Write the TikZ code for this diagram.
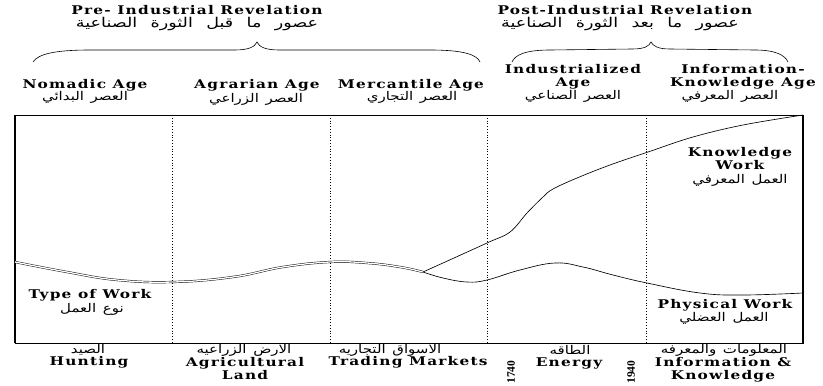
\documentclass[tikz,border=0pt]{standalone}
\usepackage{fontspec}
\setmainfont{DejaVu Serif}
\newfontfamily\enfont[FakeStretch=1.28,LetterSpace=10]{DejaVu Serif}
\newfontfamily\yrfont{Liberation Serif}
\newfontfamily\arfont[Script=Arabic,FakeStretch=1.25,WordSpace=1.4]{DejaVu Sans}
\newfontfamily\artitlefont[Script=Arabic,FakeStretch=1.3,WordSpace=2.4]{DejaVu Sans}
\TeXXeTstate=1
\tikzset{
  en/.style={font=\enfont\bfseries\fontsize{12}{13}\selectfont, align=center, inner sep=0pt},
  arb/.style={font=\arfont\fontsize{12}{13}\selectfont, inner sep=0pt},
  artitle/.style={font=\artitlefont\fontsize{13.5}{14}\selectfont, inner sep=0pt},
  yr/.style={font=\yrfont\bfseries\fontsize{11.5}{12}\selectfont, inner sep=0pt, rotate=90},
  frame/.style={line width=0.7pt},
  sideline/.style={line width=1.3pt},
  sep/.style={dotted, line width=0.8pt},
  curve/.style={line width=0.65pt},
  dbl/.style={double, double distance=1.3pt, line width=0.45pt},
  brace/.style={line width=0.6pt}
}
\begin{document}
\begin{tikzpicture}[x=1pt,y=-1pt]
\useasboundingbox (0,0) rectangle (823,386);
% titles
\node[en] (pre) at (197,10) {Pre- Industrial Revelation};
\node[artitle] (prear) at (197,24) {\beginR عصور ما قبل الثورة الصناعية\endR};
\node[en] (post) at (625,10) {Post-Industrial Revelation};
\node[artitle] (postar) at (620,24) {\beginR عصور ما بعد الثورة الصناعية\endR};
% braces
\draw[brace] (33,62) .. controls (38,54) and (55,50) .. (90,50) -- (235,50)
  .. controls (248,50) and (255,47) .. (257,42)
  .. controls (259,47) and (266,50) .. (279,50) -- (430,50)
  .. controls (465,50) and (477,55) .. (480,62);
\draw[brace] (512,62) .. controls (515,55) and (525,50) .. (550,50) -- (632,49)
  .. controls (645,49) and (649,46) .. (651,42)
  .. controls (653,46) and (658,49) .. (670,49) -- (755,50)
  .. controls (775,50) and (785,55) .. (788,62);
% ages
\node[en] (nom) at (85,85) {Nomadic Age};
\node[arb] (nomar) at (85,97) {\beginR العصر البدائي\endR};
\node[en] (agr) at (257,85) {Agrarian Age};
\node[arb] (agrar) at (256,99) {\beginR العصر الزراعي\endR};
\node[en] (mer) at (411,85) {Mercantile Age};
\node[arb] (merar) at (412,97) {\beginR العصر التجاري\endR};
\node[en] (ind) at (573,76.5) {Industrialized\\Age};
\node[arb] (indar) at (573,96) {\beginR العصر الصناعي\endR};
\node[en] (inf) at (743,76.5) {Information-\\Knowledge Age};
\node[arb] (infar) at (730,96) {\beginR العصر المعرفي\endR};
% frame
\coordinate (tl) at (15,115);
\coordinate (br) at (803,343);
\draw[frame] (tl) rectangle (br);
\draw[sideline] (tl) -- (tl |- br);
\draw[sideline] (br |- tl) -- (br);
\foreach \x/\n in {172/s1,330/s2,487/s3,646/s4}{
  \coordinate (\n t) at (\x,115);
  \coordinate (\n b) at (\x,343);
  \draw[sep] (\n t) -- (\n b);
}
% curves
\coordinate (split) at (423,272);
\draw[dbl] plot[smooth, tension=0.7] coordinates {(15,262) (67,272) (117,280) (173,282) (233,277) (283,267) (330,262) (367,263) (400,267) (423,272)};
\draw[curve] plot[smooth, tension=0.6] coordinates {(423,272) (487,243) (510,232) (527,213) (543,197) (553,189) (577,178) (610,165) (648,152) (693,137) (743,125) (803,115)};
\draw[curve] plot[smooth, tension=0.7] coordinates {(423,272) (443,278) (467,282) (487,280) (520,270) (555,263) (583,267) (613,275) (647,283) (700,293) (743,295) (803,293)};
% curve labels
\node[en] (kw) at (740,159) {Knowledge\\Work};
\node[arb] (kwar) at (740,180) {\beginR العمل المعرفي\endR};
\node[en] (tw) at (90,295) {Type of Work};
\node[arb] (twar) at (92,309) {\beginR نوع العمل\endR};
\node[en] (pw) at (725,305) {Physical Work};
\node[arb] (pwar) at (724,318) {\beginR العمل العضلي\endR};
% bottom labels
\node[arb] (hunar) at (88,350) {\beginR الصيد\endR};
\node[en] (hun) at (89,362.5) {Hunting};
\node[arb] (lanar) at (244,350) {\beginR الارض الزراعيه\endR};
\node[en] (lan) at (245,368.5) {Agricultural\\Land};
\node[arb] (traar) at (390,350) {\beginR الاسواق التجاريه\endR};
\node[en] (tra) at (408,362.5) {Trading Markets};
\node[arb] (eneer) at (570,349.5) {\beginR الطاقه\endR};
\node[en] (ene) at (569,363.5) {Energy};
\node[arb] (infkar) at (724,350) {\beginR المعلومات والمعرفه\endR};
\node[en] (infk) at (723,369.5) {Information \&\\Knowledge};
\node[yr] (y1) at (511,372) {1740};
\node[yr] (y2) at (631,372) {1940};
\end{tikzpicture}
\end{document}
